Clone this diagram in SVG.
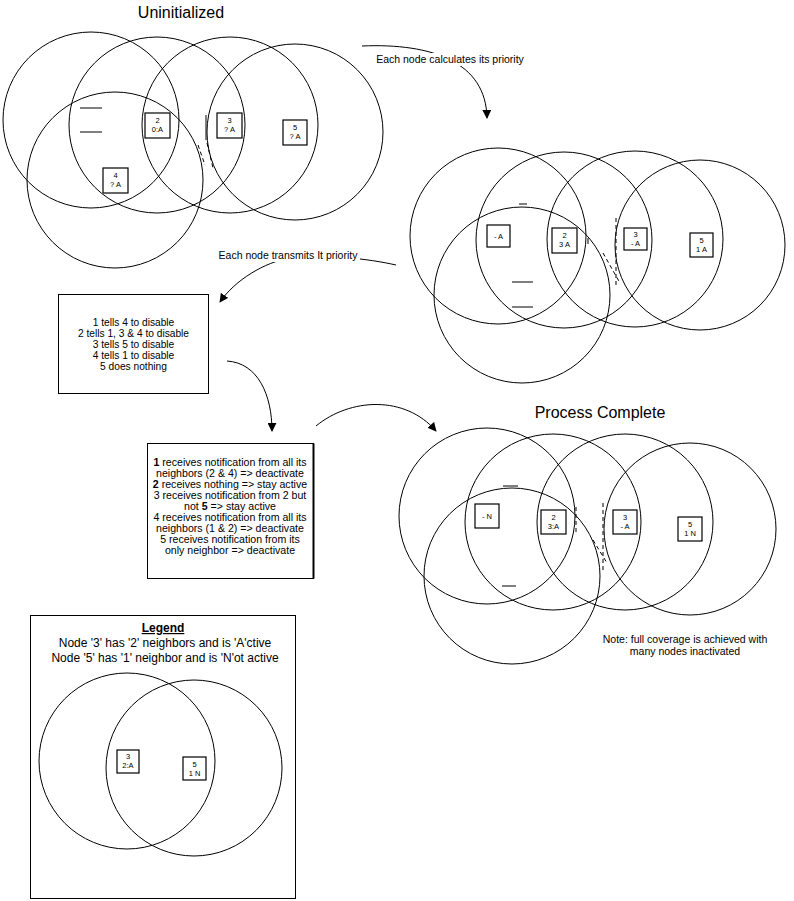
<svg xmlns="http://www.w3.org/2000/svg" width="794" height="901" viewBox="0 0 794 901">
<style>
.c{fill:none;stroke:#000;stroke-width:1}
.b{fill:#fff;stroke:#000;stroke-width:1.2}
.t{font-family:"Liberation Sans",Arial,sans-serif;fill:#000;text-anchor:middle}
.s{font-size:7.5px}
.m{font-size:10.5px}
.mark{fill:none;stroke:#000;stroke-width:1}
.dash{fill:none;stroke:#000;stroke-width:1;stroke-dasharray:4 3}
.a{fill:none;stroke:#000;stroke-width:1;marker-end:url(#ah)}
</style>
<defs>
<marker id="ah" viewBox="0 0 10 10" refX="9" refY="5" markerWidth="9" markerHeight="9" markerUnits="userSpaceOnUse" orient="auto">
<path d="M0,0 L10,5 L0,10 Z" fill="#000"/>
</marker>
</defs>
<rect width="794" height="901" fill="#fff"/>

<!-- Uninitialized cluster -->
<g id="uninitialized">
<text class="t" x="181" y="18" font-size="16">Uninitialized</text>
<circle class="c" cx="91" cy="120" r="88"/>
<circle class="c" cx="157" cy="125" r="88"/>
<circle class="c" cx="230" cy="125" r="88"/>
<circle class="c" cx="115" cy="180" r="88"/>
<circle class="c" cx="295" cy="132" r="88"/>
<path class="mark" d="M80,108 H102 M80,132 H102"/>
<path class="mark" d="M206,115 V140"/>
<path class="dash" d="M198,145 L205,165 M207,143 L213,168"/>
</g>
<g id="u-node2"><rect class="b" x="145" y="113" width="25" height="25"/><text class="t s" x="157.5" y="123">2</text><text class="t s" x="157.5" y="132">0:A</text></g>
<g id="u-node3"><rect class="b" x="217" y="113" width="25" height="25"/><text class="t s" x="229.5" y="123">3</text><text class="t s" x="229.5" y="132">? A</text></g>
<g id="u-node5"><rect class="b" x="283" y="120" width="24" height="25"/><text class="t s" x="295" y="130">5</text><text class="t s" x="295" y="139">? A</text></g>
<g id="u-node4"><rect class="b" x="103" y="168" width="25" height="25"/><text class="t s" x="115.5" y="178">4</text><text class="t s" x="115.5" y="187">? A</text></g>

<!-- Priority cluster -->
<g id="priority">
<circle class="c" cx="498" cy="236" r="88"/>
<circle class="c" cx="564" cy="240" r="88"/>
<circle class="c" cx="635" cy="239" r="88"/>
<circle class="c" cx="522" cy="295" r="88"/>
<circle class="c" cx="700" cy="245" r="85"/>
<path class="mark" d="M519,204 H527 M512,282 H533 M512,307 H533 M588,238 V244"/>
<path class="dash" d="M616,218 V288 M603,253 L620,283"/>
</g>
<g id="p-node1"><rect class="b" x="487" y="225" width="23" height="22"/><text class="t s" x="498.5" y="239">- A</text></g>
<g id="p-node2"><rect class="b" x="552" y="228" width="25" height="25"/><text class="t s" x="564.5" y="238">2</text><text class="t s" x="564.5" y="247">3 A</text></g>
<g id="p-node3"><rect class="b" x="624" y="228" width="23" height="22"/><text class="t s" x="635.5" y="237">3</text><text class="t s" x="635.5" y="246">- A</text></g>
<g id="p-node5"><rect class="b" x="690" y="233" width="23" height="24"/><text class="t s" x="701.5" y="243">5</text><text class="t s" x="701.5" y="252">1 A</text></g>

<!-- Process Complete cluster -->
<g id="complete">
<text class="t" x="600" y="418" font-size="16">Process Complete</text>
<circle class="c" cx="487" cy="516" r="88"/>
<circle class="c" cx="553" cy="522" r="88"/>
<circle class="c" cx="625" cy="522" r="88"/>
<circle class="c" cx="512" cy="576" r="88"/>
<circle class="c" cx="690" cy="529" r="86"/>
<path class="mark" d="M503,486 H518 M502,586 H516"/>
<path class="dash" d="M576,507 V532 M603,503 V570 M593,540 L607,563"/>
<text class="t m" x="685" y="643">Note: full coverage is achieved with</text>
<text class="t m" x="685" y="655">many nodes inactivated</text>
</g>
<g id="c-node1"><rect class="b" x="475" y="504" width="24" height="24"/><text class="t s" x="487" y="519">- N</text></g>
<g id="c-node2"><rect class="b" x="541" y="510" width="25" height="24"/><text class="t s" x="553.5" y="520">2</text><text class="t s" x="553.5" y="529">3:A</text></g>
<g id="c-node3"><rect class="b" x="613" y="510" width="24" height="24"/><text class="t s" x="625" y="520">3</text><text class="t s" x="625" y="529">- A</text></g>
<g id="c-node5"><rect class="b" x="678" y="517" width="24" height="24"/><text class="t s" x="690" y="527">5</text><text class="t s" x="690" y="536">1 N</text></g>

<!-- Text boxes -->
<g id="box-tells">
<rect x="58.5" y="294.5" width="150" height="99" fill="#fff" stroke="#000"/>
<g class="t" font-size="10.2">
<text x="133.5" y="326">1 tells 4 to disable</text>
<text x="133.5" y="337">2 tells 1, 3 &amp; 4 to disable</text>
<text x="133.5" y="348">3 tells 5 to disable</text>
<text x="133.5" y="359">4 tells 1 to disable</text>
<text x="133.5" y="370">5 does nothing</text>
</g>
</g>
<g id="box-receives">
<rect x="147.5" y="443.5" width="166" height="135" fill="#fff" stroke="#000"/>
<line x1="313.5" y1="443.5" x2="313.5" y2="578.5" stroke="#000" stroke-width="2"/>
<g class="t" font-size="10.6">
<text x="230" y="466"><tspan font-weight="bold">1</tspan> receives notification from all its</text>
<text x="230" y="477">neighbors (2 &amp; 4) =&gt; deactivate</text>
<text x="230" y="488"><tspan font-weight="bold">2</tspan> receives nothing =&gt; stay active</text>
<text x="230" y="499">3 receives notification from 2 but</text>
<text x="230" y="510">not <tspan font-weight="bold">5</tspan> =&gt; stay active</text>
<text x="230" y="521">4 receives notification from all its</text>
<text x="230" y="532">neighbors (1 &amp; 2) =&gt; deactivate</text>
<text x="230" y="543">5 receives notification from its</text>
<text x="230" y="554">only neighbor =&gt; deactivate</text>
</g>
</g>

<!-- Legend -->
<g id="legend">
<rect x="30.5" y="615.5" width="265" height="283" fill="#fff" stroke="#000"/>
<text class="t" x="163" y="632" font-size="12" font-weight="bold" text-decoration="underline">Legend</text>
<text class="t" x="165" y="647" font-size="12">Node '3' has '2' neighbors and is 'A'ctive</text>
<text class="t" x="165" y="662" font-size="12">Node '5' has '1' neighbor and is 'N'ot active</text>
<circle class="c" cx="127" cy="761" r="88"/>
<circle class="c" cx="194" cy="768" r="88"/>
</g>
<g id="legend-node3"><rect class="b" x="117" y="750" width="22" height="23"/><text class="t s" x="128" y="759">3</text><text class="t s" x="128" y="768">2:A</text></g>
<g id="legend-node5"><rect class="b" x="183" y="757" width="23" height="23"/><text class="t s" x="194.5" y="767">5</text><text class="t s" x="194.5" y="776">1 N</text></g>

<!-- Connectors -->
<g id="connectors">
<path class="a" d="M362,46 C432,43 486,62 487,118"/>
<rect x="373" y="53" width="155" height="13" fill="#fff"/>
<text class="t m" x="450" y="63">Each node calculates its priority</text>
<path class="a" d="M396,265 C370,259 320,253 290,258 C265,262 235,280 220,302"/>
<rect x="216" y="249" width="144" height="13" fill="#fff"/>
<text class="t m" x="288" y="259">Each node transmits It priority</text>
<path class="a" d="M227,361 C258,363 272,395 272,431"/>
<path class="a" d="M316,426 C350,398 405,395 436,431"/>
</g>
</svg>
